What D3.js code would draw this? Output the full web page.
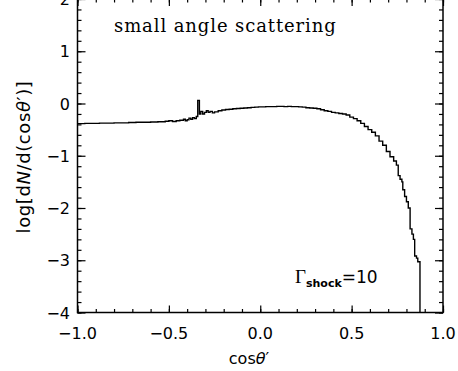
<!DOCTYPE html>
<html><head><meta charset="utf-8">
<script src="https://cdn.jsdelivr.net/npm/d3@7"></script>
<style>body{margin:0;background:#fff}svg{display:block}</style>
</head><body>
<script>
// bin left edges (cos theta') and log values
const binX = [-1.00,-0.96,-0.92,-0.88,-0.84,-0.80,-0.76,-0.72,-0.68,-0.64,-0.60,-0.56,-0.52,-0.50,-0.48,-0.46,-0.44,-0.42,-0.41,-0.40,-0.39,-0.38,-0.37,-0.36,-0.35,-0.342,-0.333,-0.325,-0.315,-0.305,-0.295,-0.285,-0.275,-0.262,-0.25,-0.23,-0.21,-0.19,-0.17,-0.15,-0.13,-0.11,-0.09,-0.07,-0.05,-0.03,-0.01,0.01,0.03,0.05,0.07,0.09,0.11,0.13,0.15,0.17,0.19,0.21,0.23,0.25,0.27,0.29,0.31,0.33,0.35,0.37,0.39,0.41,0.43,0.45,0.47,0.49,0.51,0.53,0.55,0.57,0.59,0.61,0.63,0.65,0.67,0.69,0.71,0.73,0.745,0.755,0.765,0.775,0.78,0.79,0.80,0.81,0.82,0.83,0.838,0.845,0.855,0.862,0.874];
const binY = [-0.385,-0.38,-0.38,-0.375,-0.375,-0.37,-0.37,-0.365,-0.36,-0.36,-0.355,-0.35,-0.34,-0.33,-0.345,-0.33,-0.32,-0.30,-0.33,-0.31,-0.28,-0.30,-0.27,-0.29,-0.25,0.06,-0.20,-0.15,-0.20,-0.17,-0.14,-0.17,-0.15,-0.18,-0.16,-0.14,-0.125,-0.115,-0.11,-0.10,-0.095,-0.09,-0.085,-0.08,-0.075,-0.07,-0.065,-0.065,-0.06,-0.06,-0.06,-0.055,-0.055,-0.06,-0.055,-0.06,-0.06,-0.065,-0.07,-0.08,-0.085,-0.09,-0.10,-0.12,-0.14,-0.15,-0.17,-0.18,-0.19,-0.20,-0.22,-0.26,-0.29,-0.33,-0.38,-0.44,-0.50,-0.55,-0.62,-0.72,-0.80,-0.92,-1.02,-1.10,-1.18,-1.38,-1.45,-1.50,-1.65,-1.78,-1.88,-2.00,-2.40,-2.50,-2.60,-2.92,-2.96,-3.03,-4.0];
const xTicks = [-1.0,-0.5,0.0,0.5,1.0];
const xTickLabels = ["\u22121.0","\u22120.5","0.0","0.5","1.0"];
const yTicks = [-4,-3,-2,-1,0,1,2];
const yTickLabels = ["\u22124","\u22123","\u22122","\u22121","0","1","2"];

const W=458,H=371;
const L=77.5,R=443,T=-1,B=312.5;
const svg=d3.select("body").append("svg").attr("width",W).attr("height",H);
const x=d3.scaleLinear().domain([-1,1]).range([L,R]);
const y=d3.scaleLinear().domain([-4,2]).range([B,T]);

const font="'DejaVu Sans', sans-serif";
// data
const pts=binX.map((v,i)=>[v,binY[i]]);
svg.append("defs").append("clipPath").attr("id","c").append("rect")
  .attr("x",L).attr("y",T).attr("width",R-L).attr("height",B-T);
svg.append("path").attr("clip-path","url(#c)")
  .attr("d",d3.line().x(d=>x(d[0])).y(d=>y(d[1])).curve(d3.curveStepAfter)(pts))
  .attr("fill","none").attr("stroke","#000").attr("stroke-width",1.4);

// axes
const xMinor=d3.range(-1,1.0001,0.1);
const yMinor=d3.range(-4,2.0001,0.2);
function ax(axis,tr,ticks,size){
  const g=svg.append("g").attr("transform",tr).call(axis.tickValues(ticks).tickSize(size).tickFormat(""));
  g.selectAll("path").remove();
  g.selectAll("line").attr("stroke","#000").attr("stroke-width",1.2);
  return g;
}
// bottom
ax(d3.axisTop(x),`translate(0,${B})`,xTicks,7);
ax(d3.axisTop(x),`translate(0,${B})`,xMinor,3.5);
xTicks.forEach((t,i)=>svg.append("text").attr("x",x(t)).attr("y",339).attr("text-anchor","middle")
  .attr("font-family",font).attr("font-size",16).text(xTickLabels[i]));
// top
ax(d3.axisBottom(x),`translate(0,${T})`,xTicks,7);
ax(d3.axisBottom(x),`translate(0,${T})`,xMinor,3.5);
// left
ax(d3.axisRight(y),`translate(${L},0)`,yTicks,8);
ax(d3.axisRight(y),`translate(${L},0)`,yMinor,4);
yTicks.forEach((t,i)=>svg.append("text").attr("x",70).attr("y",y(t)+6).attr("text-anchor","end")
  .attr("font-family",font).attr("font-size",16).text(yTickLabels[i]));
// right
ax(d3.axisLeft(y),`translate(${R},0)`,yTicks,8);
ax(d3.axisLeft(y),`translate(${R},0)`,yMinor,4);
// frame
svg.append("rect").attr("x",L).attr("y",T).attr("width",R-L).attr("height",B-T)
  .attr("fill","none").attr("stroke","#000").attr("stroke-width",1.5);

// titles
svg.append("text").attr("x",249).attr("y",364).attr("text-anchor","middle").attr("font-family",font).attr("font-size",16)
  .html("cos<tspan font-style='italic'>θ</tspan>′");
svg.append("text").attr("transform","translate(30,157) rotate(-90)").attr("text-anchor","middle").attr("font-family",font).attr("font-size",18)
  .attr("letter-spacing",0.6)
  .html("log[d<tspan font-style='italic'>N</tspan>/d(cos<tspan font-style='italic'>θ</tspan>′)]");
svg.append("text").attr("x",114).attr("y",32).attr("font-family","'DejaVu Serif', serif").attr("font-size",18)
  .attr("letter-spacing",0.9).text("small angle scattering");
const g2=svg.append("text").attr("x",295).attr("y",283).attr("font-family",font).attr("font-size",17);
g2.append("tspan").attr("font-family","'Liberation Serif', serif").attr("font-size",19).text("Γ");
g2.append("tspan").attr("font-size",11).attr("font-weight","bold").attr("dy",4).text("shock");
g2.append("tspan").attr("dy",-4).attr("font-size",17).text("=10");
</script>
</body></html>
